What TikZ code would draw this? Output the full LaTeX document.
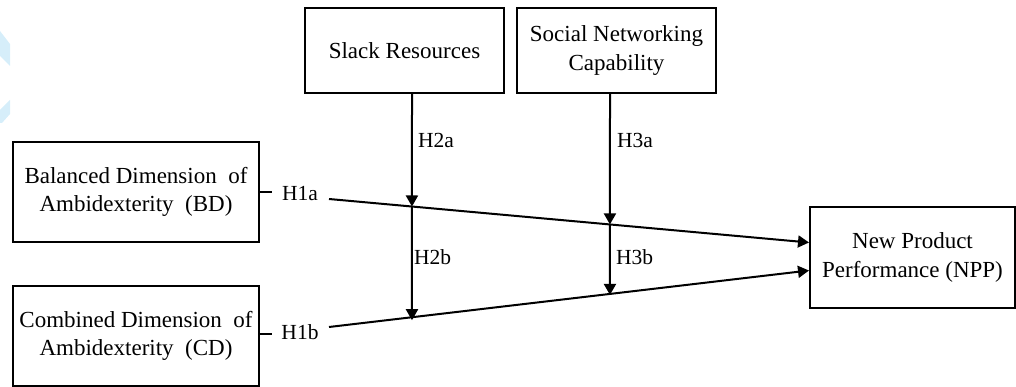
\documentclass[tikz,border=0pt]{standalone}
\usepackage{fontspec}
\setmainfont{Liberation Serif}
\usetikzlibrary{arrows.meta}
\definecolor{wm}{RGB}{214,238,250}
\begin{document}
\begin{tikzpicture}[x=1pt,y=-1pt,
  box/.style={draw, line width=2pt, align=center, inner sep=0pt,
    font=\fontsize{23}{28.5}\selectfont},
  hlabel/.style={inner sep=0pt, font=\fontsize{21.5}{25}\selectfont},
  link/.style={line width=2pt},
  arr/.style={line width=2pt, -{Triangle[length=11pt,width=12pt]}}]
\useasboundingbox (0,0) rectangle (1016,387);
% faint watermark remnants at left edge
\fill[wm] (0,31) -- (10,44) -- (10,66) -- (0,56) -- cycle;
\fill[wm] (10,100) -- (10,114) -- (2,123) -- (0,123) -- (0,110) -- cycle;
% boxes
\node[box, minimum width=199pt, minimum height=85pt] (SR) at (404.5,50.5) {Slack Resources};
\node[box, minimum width=199pt, minimum height=85pt] (SN) at (616.5,50.5) {Social Networking\\Capability};
\node[box, minimum width=246pt, minimum height=100pt] (BD) at (136,192) {Balanced Dimension\ \ of\\Ambidexterity\ \ (BD)};
\node[box, minimum width=246pt, minimum height=100pt] (CD) at (136,336) {Combined Dimension\ \ of\\Ambidexterity\ \ (CD)};
\node[box, minimum width=205pt, minimum height=101pt] (NPP) at (912.5,257.5) {New Product\\Performance (NPP)};
% hypothesis labels
\node[hlabel] (H1a) at (300,194) {H1a};
\node[hlabel] (H1b) at (300,332) {H1b};
\node[hlabel, anchor=west] (H2a) at (418,140) {H2a};
\node[hlabel, anchor=west] (H2b) at (414,257) {H2b};
\node[hlabel, anchor=west] (H3a) at (617,140) {H3a};
\node[hlabel, anchor=west] (H3b) at (616,257) {H3b};
% coordinates
\coordinate (a0) at (272,192);
\coordinate (a1) at (329,199);
\coordinate (a2) at ([yshift=15pt]NPP.west);
\coordinate (b0) at (272,334);
\coordinate (b1) at (329,327);
\coordinate (b2) at ([yshift=-13pt]NPP.west);
\coordinate (s0) at ([xshift=7.5pt]SR.south);
\coordinate (s9) at (412,400);
\coordinate (t0) at ([xshift=-6.5pt]SN.south);
\coordinate (t9) at (610,400);
\coordinate (s1) at (intersection of s0--s9 and a1--a2);
\coordinate (s2) at (intersection of s0--s9 and b1--b2);
\coordinate (t1) at (intersection of t0--t9 and a1--a2);
\coordinate (t2) at (intersection of t0--t9 and b1--b2);
% main paths
\draw[link] (BD.east |- a0) -- (a0);
\draw[arr] (a1) -- (a2);
\draw[link] (CD.east |- b0) -- (b0);
\draw[arr] (b1) -- (b2);
% moderators
\draw[arr] (s0) -- (s1);
\draw[arr] (s1) -- ([yshift=-3pt]s2);
\draw[arr] (t0) -- (t1);
\draw[arr] (t1) -- ([yshift=-1pt]t2);
\end{tikzpicture}
\end{document}
